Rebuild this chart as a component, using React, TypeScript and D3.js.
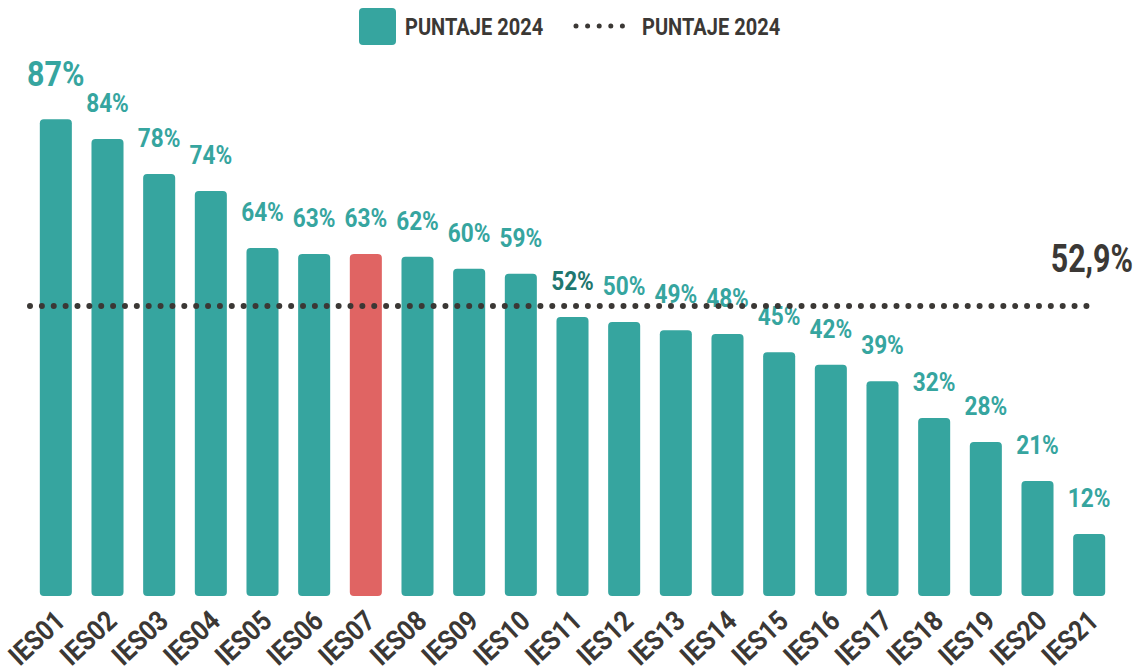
import { useEffect, useRef } from 'react';
import * as d3 from 'd3';

const categories = ['IES01', 'IES02', 'IES03', 'IES04', 'IES05', 'IES06', 'IES07', 'IES08', 'IES09', 'IES10', 'IES11',
  'IES12', 'IES13', 'IES14', 'IES15', 'IES16', 'IES17', 'IES18', 'IES19', 'IES20', 'IES21'];
const scores = [87, 83.4, 77, 73.9, 63.5, 62.4, 62.4, 61.9, 59.7, 58.8, 50.9, 50, 48.5, 47.8, 44.5, 42.2, 39.2, 32.5, 28.1, 21, 11.3];
const scoreLabels = ['87%', '84%', '78%', '74%', '64%', '63%', '63%', '62%', '60%', '59%', '52%', '50%', '49%', '48%', '45%',
  '42%', '39%', '32%', '28%', '21%', '12%'];
const average = 52.9;
const averageLabel = '52,9%';
const legendLabels = ['PUNTAJE 2024', 'PUNTAJE 2024'];
const highlighted = 'IES07';
const emphasised = 'IES11';

const FONT = "Roboto, 'DejaVu Sans Condensed', sans-serif";
const TEAL = '#36a59f';
const RED = '#e06463';
const DARK = '#3b3835';

const App = () => {
  const ref = useRef<SVGSVGElement>(null);

  useEffect(() => {
    const width = 1138;
    const height = 671;
    const svg = d3.select(ref.current);
    svg.selectAll('*').remove();
    svg.attr('width', width).attr('height', height)
      .style('font-family', FONT)
      .style('font-weight', 'bold');

    const x = d3.scaleBand<string>()
      .domain(categories)
      .range([30, 1115])
      .paddingInner(0.38)
      .paddingOuter(0.19);

    const y = d3.scaleLinear()
      .domain([0, 100])
      .range([596, 48]);

    // bars
    svg.append('g')
      .selectAll('rect')
      .data(categories)
      .join('rect')
      .attr('x', d => x(d)!)
      .attr('y', (d, i) => y(scores[i]))
      .attr('width', x.bandwidth())
      .attr('height', (d, i) => y(0) - y(scores[i]))
      .attr('rx', 4)
      .attr('fill', d => d === highlighted ? RED : TEAL);

    // value labels (narrowed a bit to mimic the condensed face)
    svg.append('g')
      .selectAll('text')
      .data(categories)
      .join('text')
      .attr('transform', (d, i) =>
        `translate(${x(d)! + x.bandwidth() / 2},${y(scores[i]) - (i === 0 ? 33 : 27)}) scale(0.87,1)`)
      .attr('text-anchor', 'middle')
      .attr('font-size', (d, i) => i === 0 ? 35 : 26)
      .attr('fill', d => d === emphasised ? '#1f776f' : TEAL)
      .text((d, i) => scoreLabels[i]);

    // average line
    svg.append('line')
      .attr('x1', 30)
      .attr('x2', 1092)
      .attr('y1', y(average))
      .attr('y2', y(average))
      .attr('stroke', DARK)
      .attr('stroke-width', 6)
      .attr('stroke-linecap', 'round')
      .attr('stroke-dasharray', '0 11.87');

    svg.append('text')
      .attr('transform', 'translate(1133,272) scale(0.8,1)')
      .attr('text-anchor', 'end')
      .attr('font-size', 38)
      .attr('fill', DARK)
      .text(averageLabel);

    // x axis labels
    svg.append('g')
      .selectAll('text')
      .data(categories)
      .join('text')
      .attr('transform', d => `translate(${x(d)! + x.bandwidth() / 2 + 11},623) rotate(-43) scale(0.88,1)`)
      .attr('text-anchor', 'end')
      .attr('font-size', 28)
      .attr('fill', DARK)
      .text(d => d);

    // legend
    const legend = svg.append('g');
    legend.append('rect')
      .attr('x', 359).attr('y', 8)
      .attr('width', 37).attr('height', 37)
      .attr('rx', 4)
      .attr('fill', TEAL);
    legend.append('text')
      .attr('transform', 'translate(405,35) scale(0.835,1)')
      .attr('font-size', 24)
      .attr('fill', DARK)
      .text(legendLabels[0]);
    legend.append('line')
      .attr('x1', 576).attr('x2', 634)
      .attr('y1', 26).attr('y2', 26)
      .attr('stroke', DARK)
      .attr('stroke-width', 5)
      .attr('stroke-linecap', 'round')
      .attr('stroke-dasharray', '0 11.6');
    legend.append('text')
      .attr('transform', 'translate(642,35) scale(0.835,1)')
      .attr('font-size', 24)
      .attr('fill', DARK)
      .text(legendLabels[1]);
  }, []);

  return (
    <svg ref={ref} style={{ position: 'absolute', left: 0, top: 0, display: 'block' }} />
  );
};

export default App;
